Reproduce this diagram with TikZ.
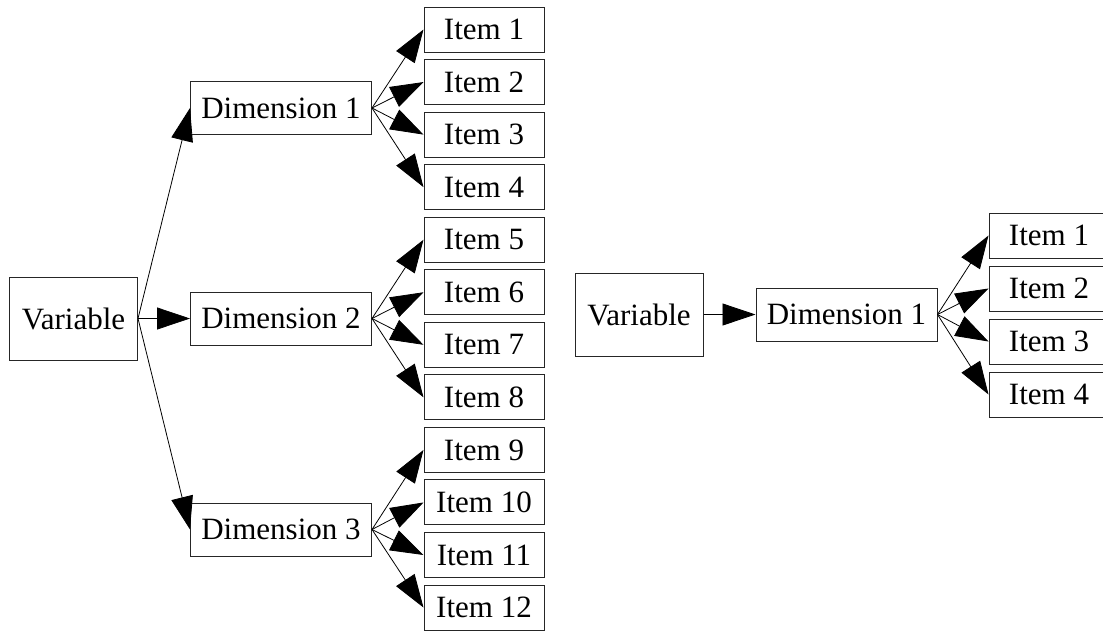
\documentclass[tikz,border=0pt]{standalone}
\usepackage{fontspec}
\setmainfont{Liberation Serif}
\usetikzlibrary{arrows.meta}
\tikzset{
  box/.style={draw=black!85, line width=1pt, inner sep=0pt, font=\fontsize{31}{36}\selectfont, anchor=center},
  varbox/.style={box, minimum width=128pt, minimum height=83pt},
  dimbox/.style={box, minimum width=181pt, minimum height=53pt},
  itembox/.style={box, minimum width=120pt, minimum height=45pt},
  conn/.style={line width=0.8pt, -{Triangle[length=33pt,width=22pt]}}
}
\begin{document}
\begin{tikzpicture}[x=1pt,y=-1pt]
\useasboundingbox (0,0) rectangle (1103,630);
% left tree
\node[varbox] (var) at (73.5,318.5) {Variable};
\node[dimbox] (d1) at (281,108) {Dimension 1};
\node[dimbox] (d2) at (281,318.5) {Dimension 2};
\node[dimbox] (d3) at (281,529.5) {Dimension 3};
\foreach \k in {1,...,12} {
  \node[itembox] (it\k) at (484,{29.5+(\k-1)*52.55}) {Item \k};
}
\draw[conn] (var.east) -- (d1.west);
\draw[conn] (var.east) -- (d2.west);
\draw[conn] (var.east) -- (d3.west);
\foreach \k in {1,...,4} {\draw[conn] (d1.east) -- (it\k.west);}
\foreach \k in {5,...,8} {\draw[conn] (d2.east) -- (it\k.west);}
\foreach \k in {9,...,12} {\draw[conn] (d3.east) -- (it\k.west);}
% right tree
\node[varbox] (rvar) at (639,314.5) {Variable};
\node[dimbox] (rd1) at (846.5,314.5) {Dimension 1};
\foreach \k in {1,...,4} {
  \node[itembox] (rit\k) at (1049,{235.5+(\k-1)*53}) {Item \k};
  \draw[conn] (rd1.east) -- (rit\k.west);
}
\draw[conn] (rvar.east) -- (rd1.west);
\end{tikzpicture}
\end{document}
